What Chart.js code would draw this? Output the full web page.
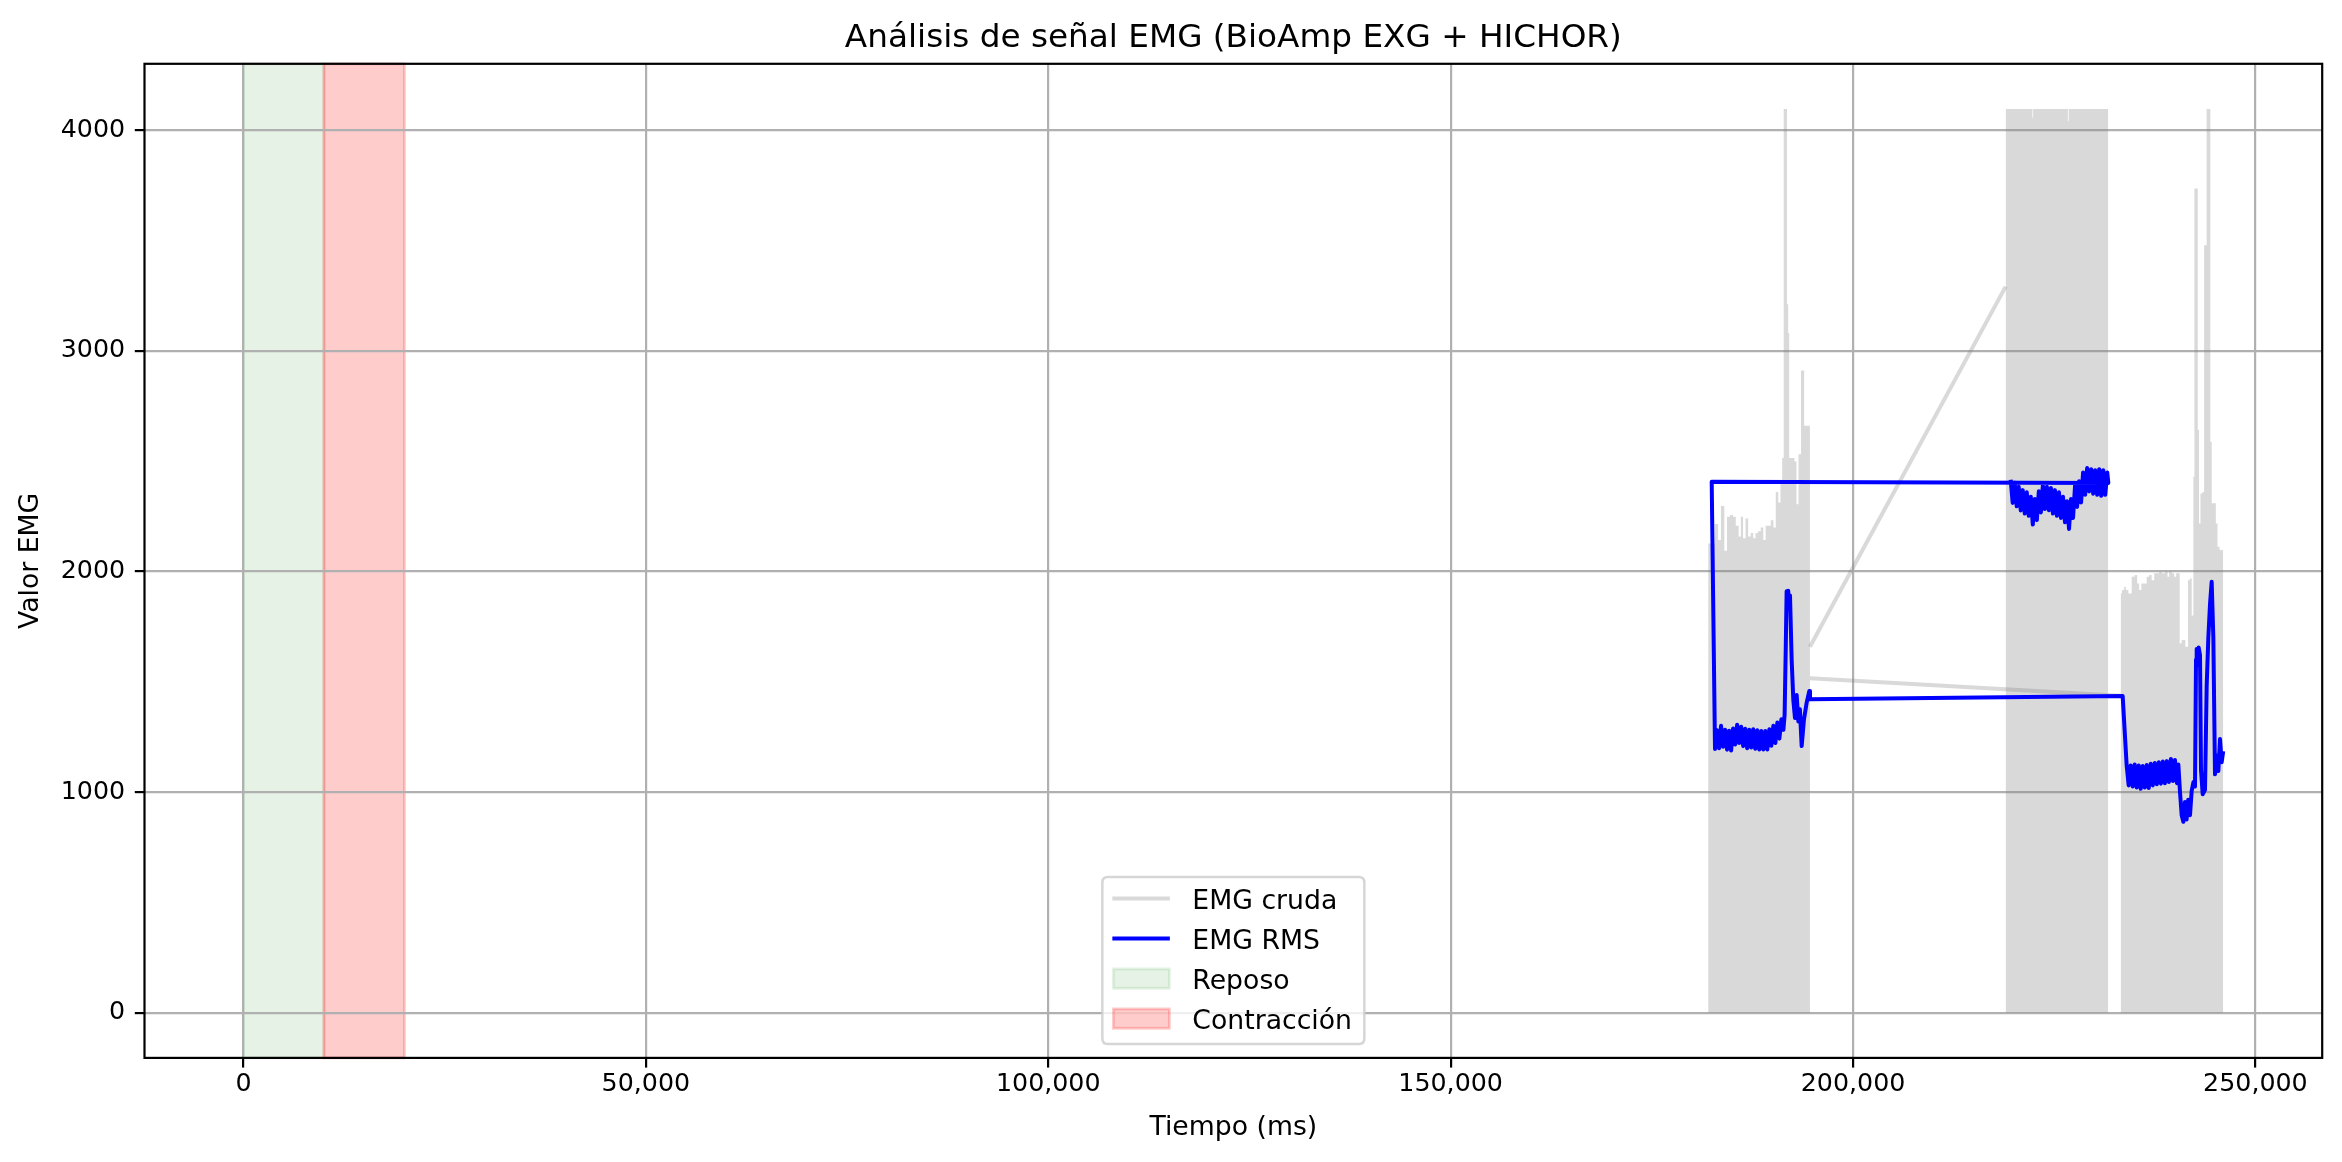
<!DOCTYPE html>
<html>
<head>
<meta charset="utf-8">
<script src="https://cdn.jsdelivr.net/npm/chart.js@4.4.0/dist/chart.umd.min.js"></script>
<style>
html,body{margin:0;padding:0;background:#ffffff;}
canvas{display:block;}
</style>
</head>
<body>
<canvas id="c" width="2342" height="1162"></canvas>
<script>
// ---------- text ----------
const chartTitle = 'Análisis de señal EMG (BioAmp EXG + HICHOR)';
const xTitle = 'Tiempo (ms)';
const yTitle = 'Valor EMG';
const seriesLabels = ['EMG cruda', 'EMG RMS'];
const phaseLabels = ['Reposo', 'Contracción'];

// ---------- axes ----------
const xTicks = [0, 50000, 100000, 150000, 200000, 250000];
const xTickLabels = ['0', '50,000', '100,000', '150,000', '200,000', '250,000'];
const yTicks = [0, 1000, 2000, 3000, 4000];
const yTickLabels = ['0', '1000', '2000', '3000', '4000'];
const xLimits = [-12300, 258300];
const yLimits = [-204.75, 4299.75];

// ---------- phases (ms) ----------
const phaseStarts = [0, 10000];
const phaseEnds = [10000, 20000];

// ---------- raw EMG: upper envelope of each dense recording block [ms, value] ----------
const rawSeg1 = [[182000,2126],[182500,2126],[183130,2215],[183340,2142],[183840,2296],[184180,2093],[184510,2247],[184930,2255],[185230,2247],[185640,2207],[185940,2158],[186190,2247],[186480,2150],[186820,2239],[187110,2158],[187450,2174],[187740,2150],[188030,2174],[188370,2182],[188700,2199],[189000,2142],[189290,2207],[189620,2207],[189960,2231],[190250,2199],[190550,2360],[190880,2312],[191090,2401],[191300,2514],[191480,4095],[191720,4095],[191880,3210],[192000,3080],[192140,2514],[192560,2514],[192890,2498],[193060,2304],[193390,2530],[193680,2910],[193800,2910],[194060,2660],[194440,2660],[194650,2660]];
const rawSeg2 = [[218960,4095],[222250,4095],[222330,4055],[222420,4095],[226650,4095],[226750,4040],[226850,4095],[231720,4095]];
const rawSeg3 = [[233260,1900],[233590,1915],[233800,1930],[234000,1915],[234420,1900],[234830,1976],[235160,1983],[235450,1945],[235660,1915],[235990,1945],[236280,1945],[236700,1976],[236900,1983],[237320,1960],[237530,1991],[237940,1991],[238150,1998],[238560,1991],[238980,1998],[239180,1976],[239390,1998],[239800,1991],[240010,1976],[240300,1991],[240550,1991],[240630,1674],[241040,1689],[241540,1658],[241710,1960],[241960,1968],[242210,1800],[242370,2429],[242480,3735],[242720,3735],[242950,2640],[243030,2217],[243320,2353],[243530,2360],[243720,3478],[243850,3478],[244030,4095],[244360,4095],[244440,2587],[244690,2308],[244980,2308],[245190,2217],[245400,2111],[245690,2097],[246000,2097]];
// raw samples joining the blocks
const rawLinkA = [[194650,1658],[218960,3290]];
const rawLinkB = [[194650,1515],[233260,1436]];

// ---------- RMS (file order: block 2, block 1, block 3) ----------
const rmsSeg2 = [[219590,2415],[219840,2310],[220090,2402],[220340,2295],[220590,2383],[220840,2276],[221090,2368],[221340,2262],[221590,2358],[221840,2252],[222090,2338],[222340,2212],[222590,2328],[222840,2232],[223090,2363],[223340,2267],[223590,2388],[223840,2282],[224090,2383],[224340,2277],[224590,2378],[224840,2262],[225090,2368],[225340,2252],[225590,2358],[225840,2242],[226090,2338],[226340,2222],[226590,2318],[226840,2192],[227090,2328],[227340,2242],[227590,2388],[227840,2292],[228090,2408],[228340,2312],[228590,2448],[228840,2347],[229090,2468],[229340,2362],[229590,2463],[229840,2352],[230090,2458],[230340,2347],[230590,2463],[230840,2342],[231090,2458],[231340,2347],[231590,2448],[231725,2400]];
const rmsSeg1 = [[182440,2406],[182850,1195],[183100,1280],[183350,1198],[183600,1300],[183850,1205],[184100,1282],[184350,1192],[184600,1278],[184850,1188],[185100,1288],[185350,1215],[185600,1305],[185850,1222],[186100,1296],[186350,1208],[186600,1287],[186850,1198],[187100,1282],[187350,1202],[187600,1284],[187850,1196],[188100,1280],[188350,1193],[188600,1277],[188850,1193],[189100,1277],[189350,1193],[189600,1284],[189850,1210],[190100,1300],[190350,1222],[190600,1315],[190850,1242],[191100,1330],[191350,1282],[191500,1350],[191640,1650],[191750,1910],[191850,1835],[191950,1912],[192050,1845],[192170,1890],[192376,1598],[192583,1417],[192790,1335],[192998,1440],[193205,1320],[193400,1375],[193619,1208],[193909,1330],[194240,1405],[194571,1458],[194654,1420]];
const rmsSeg3 = [[233507,1435],[234004,1120],[234250,1030],[234500,1120],[234750,1025],[235000,1125],[235250,1020],[235500,1120],[235750,1015],[236000,1118],[236250,1020],[236500,1122],[236750,1018],[237000,1128],[237250,1030],[237500,1132],[237750,1035],[238000,1135],[238250,1038],[238500,1138],[238750,1040],[239000,1140],[239250,1045],[239500,1150],[239750,1050],[240000,1145],[240250,1040],[240424,1125],[240631,1000],[240838,895],[241045,865],[241250,955],[241450,875],[241650,965],[241874,895],[242081,1005],[242300,1045],[242495,1025],[242620,1600],[242702,1648],[242850,1575],[242950,1655],[243116,1620],[243240,1100],[243448,990],[243738,1010],[243945,1480],[244152,1700],[244359,1850],[244566,1953],[244773,1700],[244980,1080],[245187,1165],[245394,1095],[245601,1240],[245808,1135],[246000,1185]];

// ---------- styles ----------
const FONT = '"DejaVu Sans", "Liberation Sans", sans-serif';
const RAW_COLOR = 'rgba(128,128,128,0.3)';
const RMS_COLOR = '#0000ff';
const PHASE_COLORS = ['rgba(0,128,0,0.1)', 'rgba(255,0,0,0.2)'];

const toXY = arr => arr.map(p => ({x: p[0], y: p[1]}));

const rawBlock = (arr) => ({
  data: toXY(arr), borderWidth: 0, borderColor: RAW_COLOR, backgroundColor: RAW_COLOR,
  fill: 'origin', stepped: 'middle', pointRadius: 0, order: 2
});
const rawLink = (arr) => ({
  data: toXY(arr), borderWidth: 4, borderColor: RAW_COLOR, fill: false,
  pointRadius: 0, order: 1, borderCapStyle: 'butt'
});

const decor = {
  id: 'decor',
  beforeDraw(chart) {
    const {ctx, chartArea: a, scales: {x}} = chart;
    ctx.save();
    ctx.fillStyle = '#ffffff';
    ctx.fillRect(0, 0, chart.width, chart.height);
    phaseStarts.forEach((s, i) => {
      const x0 = x.getPixelForValue(s), x1 = x.getPixelForValue(phaseEnds[i]);
      ctx.fillStyle = PHASE_COLORS[i];
      ctx.fillRect(x0, a.top, x1 - x0, a.bottom - a.top);
      ctx.strokeStyle = PHASE_COLORS[i];
      ctx.lineWidth = 2.8;
      ctx.strokeRect(x0, a.top, x1 - x0, a.bottom - a.top);
    });
    ctx.restore();
  },
  afterDatasetsDraw(chart) {
    const {ctx, chartArea: a} = chart;
    ctx.save();
    ctx.strokeStyle = '#000000';
    ctx.lineWidth = 2.2;
    ctx.strokeRect(a.left, a.top, a.right - a.left, a.bottom - a.top);
    ctx.restore();
  },
  afterDraw(chart) {
    const {ctx, chartArea: a} = chart;
    const cx = (a.left + a.right) / 2;
    ctx.save();
    ctx.fillStyle = '#000000';
    // title
    ctx.font = '32.7px ' + FONT;
    ctx.textAlign = 'center';
    ctx.textBaseline = 'alphabetic';
    ctx.fillText(chartTitle, cx, a.top - 16.5);
    // x title
    ctx.font = '26.7px ' + FONT;
    ctx.fillText(xTitle, cx, 1134.5);
    // y title
    ctx.save();
    ctx.translate(37.5, (a.top + a.bottom) / 2);
    ctx.rotate(-Math.PI / 2);
    ctx.fillText(yTitle, 0, 0);
    ctx.restore();

    // legend (lower center)
    const lw = 262, lh = 167;
    const bx = cx - lw / 2, by = a.bottom - 14 - lh;
    const r = 5.5;
    ctx.beginPath();
    ctx.moveTo(bx + r, by);
    ctx.lineTo(bx + lw - r, by);
    ctx.quadraticCurveTo(bx + lw, by, bx + lw, by + r);
    ctx.lineTo(bx + lw, by + lh - r);
    ctx.quadraticCurveTo(bx + lw, by + lh, bx + lw - r, by + lh);
    ctx.lineTo(bx + r, by + lh);
    ctx.quadraticCurveTo(bx, by + lh, bx, by + lh - r);
    ctx.lineTo(bx, by + r);
    ctx.quadraticCurveTo(bx, by, bx + r, by);
    ctx.closePath();
    ctx.fillStyle = 'rgba(255,255,255,0.8)';
    ctx.fill();
    ctx.strokeStyle = 'rgba(204,204,204,0.8)';
    ctx.lineWidth = 2.5;
    ctx.stroke();

    const labels = [seriesLabels[0], seriesLabels[1], phaseLabels[0], phaseLabels[1]];
    labels.forEach((lab, i) => {
      const cy = by + 21.7 + 40 * i;
      if (i < 2) {
        ctx.beginPath();
        ctx.moveTo(bx + 10, cy);
        ctx.lineTo(bx + 67.5, cy);
        ctx.strokeStyle = i === 0 ? RAW_COLOR : RMS_COLOR;
        ctx.lineWidth = 4;
        ctx.stroke();
      } else {
        const c = PHASE_COLORS[i - 2];
        ctx.fillStyle = c;
        ctx.fillRect(bx + 11, cy - 9.7, 56, 19.4);
        ctx.strokeStyle = c;
        ctx.lineWidth = 2.8;
        ctx.strokeRect(bx + 11, cy - 9.7, 56, 19.4);
      }
      ctx.fillStyle = '#000000';
      ctx.font = '26.7px ' + FONT;
      ctx.textAlign = 'left';
      ctx.textBaseline = 'alphabetic';
      ctx.fillText(lab, bx + 90, cy + 10);
    });
    ctx.restore();
  }
};

Chart.defaults.font.family = FONT;

new Chart(document.getElementById('c'), {
  type: 'line',
  data: {
    datasets: [
      {label: seriesLabels[1], data: toXY(rmsSeg2.concat(rmsSeg1, rmsSeg3)), borderColor: RMS_COLOR,
       borderWidth: 4, fill: false, pointRadius: 0, borderJoinStyle: 'round', order: 0},
      Object.assign(rawLink(rawLinkA), {label: seriesLabels[0]}),
      Object.assign(rawLink(rawLinkB), {label: seriesLabels[0]}),
      Object.assign(rawBlock(rawSeg1), {label: seriesLabels[0]}),
      Object.assign(rawBlock(rawSeg2), {label: seriesLabels[0]}),
      Object.assign(rawBlock(rawSeg3), {label: seriesLabels[0]})
    ]
  },
  options: {
    responsive: false,
    devicePixelRatio: 1,
    animation: false,
    events: [],
    layout: {padding: {left: 0, top: 63.8, right: 19.8, bottom: 0}},
    plugins: {legend: {display: false}, title: {display: false}, tooltip: {enabled: false}},
    scales: {
      x: {
        type: 'linear', min: xLimits[0], max: xLimits[1],
        afterBuildTicks: s => { s.ticks = xTicks.map(v => ({value: v})); },
        afterFit: s => { s.height = 104.1; },
        ticks: {autoSkip: false, maxRotation: 0, padding: 1.5, color: '#000000',
                font: {size: 25.3, family: FONT},
                callback: (v) => { const i = xTicks.indexOf(v); return i >= 0 ? xTickLabels[i] : ''; }},
        grid: {color: '#b0b0b0', lineWidth: 2.2, tickLength: 9.7, tickColor: '#000000', tickWidth: 2.2, drawTicks: true},
        border: {display: false}
      },
      y: {
        type: 'linear', min: yLimits[0], max: yLimits[1],
        afterBuildTicks: s => { s.ticks = yTicks.map(v => ({value: v})); },
        afterFit: s => { s.width = 144.5; },
        ticks: {autoSkip: false, padding: 9.7, color: '#000000',
                font: {size: 25.3, family: FONT},
                callback: (v) => { const i = yTicks.indexOf(v); return i >= 0 ? yTickLabels[i] : ''; }},
        grid: {color: '#b0b0b0', lineWidth: 2.2, tickLength: 9.7, tickColor: '#000000', tickWidth: 2.2, drawTicks: true},
        border: {display: false}
      }
    }
  },
  plugins: [decor]
});
</script>
</body>
</html>
